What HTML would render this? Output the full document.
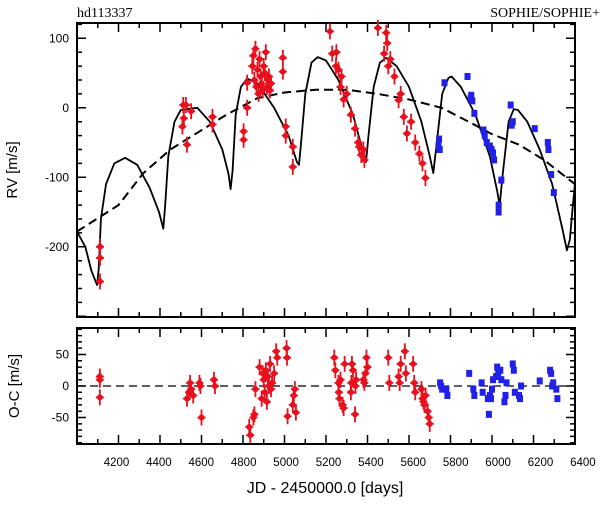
<!DOCTYPE html>
<html><head><meta charset="utf-8"><style>
body{margin:0;background:#fff;width:600px;height:510px;overflow:hidden}
svg{display:block}
text{font-family:"Liberation Sans",sans-serif;fill:#000}
</style></head><body>
<svg id="c" width="600" height="510" xmlns="http://www.w3.org/2000/svg"></svg>
<script>
const xTicks=[4200,4400,4600,4800,5000,5200,5400,5600,5800,6000,6200,6400];
const rvTicks=[100,0,-100,-200];
const ocTicks=[50,0,-50];
const modelJD=[4000,4040,4070,4097,4105,4115,4140,4180,4232,4290,4350,4395,4416,4425,4440,4470,4500,4580,4640,4700,4730,4740,4750,4765,4790,4820,4870,4950,5020,5060,5070,5080,5100,5130,5160,5200,5260,5330,5380,5393,5405,5430,5460,5490,5540,5600,5660,5700,5717,5730,5760,5790,5805,5850,5920,5990,6025,6037,6050,6080,6105,6125,6170,6230,6290,6340,6361,6375,6390,6400];
const modelRV=[-178,-200,-235,-255,-230,-160,-110,-80,-72,-82,-115,-150,-174,-140,-70,-20,-3,0,-20,-60,-95,-117,-90,-10,30,42,35,0,-40,-78,-82,-50,20,65,73,68,40,-10,-65,-78,-40,30,65,72,60,30,-20,-70,-94,-60,20,43,45,30,-10,-70,-120,-140,-100,-20,-2,-3,-20,-60,-110,-175,-205,-190,-140,-108];
const trendJD=[4000,4200,4320,4450,4580,4720,4870,5000,5150,5300,5450,5600,5757,5900,6000,6130,6250,6400];
const trendRV=[-178,-140,-94,-60,-36,-10,14,22,26,26,20,12,0,-22,-38,-53,-75,-110];
const redJD=[4111,4111,4111,4508,4512,4515,4525,4530,4550,4653,4653,4803,4803,4820,4820,4845,4850,4855,4860,4865,4870,4875,4880,4885,4890,4895,4900,4905,4910,4915,4920,4925,4930,4935,4992,4992,5006,5006,5040,5040,5219,5230,5248,5250,5260,5270,5275,5285,5300,5320,5340,5355,5360,5370,5380,5385,5450,5480,5490,5495,5500,5510,5530,5550,5560,5575,5590,5610,5630,5650,5665,5679];
const redRV=[-200,-216,-250,-27,4,-15,4,-53,-5,-13,-24,-34,-46,36,0,60,75,40,85,30,55,20,70,45,35,25,60,50,80,30,40,45,25,35,72,52,-27,-40,-56,-85,110,78,60,80,55,30,45,12,20,-10,-30,-50,-56,-68,-60,-75,115,78,108,93,60,70,45,11,20,-13,-37,-20,-50,-66,-80,-101];
const blueJD=[5742,5745,5748,5771,5882,5897,5900,5905,5915,5959,5965,5975,5990,5998,6005,6010,6032,6032,6045,6090,6095,6100,6206,6269,6272,6285,6298];
const blueRV=[-55,-45,-60,36,45,14,18,10,-8,-32,-40,-50,-55,-60,-65,-75,-140,-150,-104,4,-25,-20,-30,-50,-60,-96,-122];
const redOcJD=[4110,4110,4110,4530,4540,4545,4550,4560,4590,4595,4600,4660,4665,4830,4835,4850,4855,4860,4880,4890,4895,4900,4905,4910,4915,4920,4925,4930,4935,4940,4950,4960,4965,5010,5012,5015,5040,5045,5050,5055,5240,5245,5260,5262,5265,5270,5280,5285,5290,5320,5322,5325,5330,5340,5342,5345,5380,5385,5390,5395,5400,5500,5505,5550,5555,5560,5580,5585,5620,5625,5630,5660,5665,5670,5675,5680,5690,5695,5700];
const redOcRV=[15,10,-18,-20,-10,5,-5,-15,5,0,-50,10,0,-65,-78,-50,-45,-5,30,-20,20,10,-10,25,-25,15,0,35,-5,5,20,55,45,60,45,-48,-30,-15,-5,-42,45,25,5,-10,-20,10,-30,-35,35,-10,5,35,25,-45,0,10,10,5,20,45,30,45,5,15,5,35,55,20,35,5,-10,-5,-20,-25,-30,-15,-40,-50,-60];
const blueOcJD=[5750,5755,5760,5780,5785,5890,5910,5915,5950,5955,5980,5985,5990,5995,6000,6005,6020,6025,6030,6040,6045,6060,6065,6070,6100,6105,6110,6130,6135,6140,6230,6280,6285,6290,6295,6310,6315];
const blueOcRV=[5,0,-5,-5,-15,20,-5,-15,5,-10,-20,-45,-15,-20,-5,10,15,30,20,25,10,-25,-15,5,35,25,-10,-15,-20,0,8,25,20,0,5,-5,-20];

const NS='http://www.w3.org/2000/svg';
const svg=document.getElementById('c');
function mk(t,a,p){const e=document.createElementNS(NS,t);for(const k in a)e.setAttribute(k,a[k]);(p||svg).appendChild(e);return e;}
const X0=77,X1=575,JD0=4000,JD1=6400;
const xs=v=>X0+(v-JD0)/(JD1-JD0)*(X1-X0);
const T0=23,T1=317,RVtop=122,RVbot=-301;
const ys=v=>T0+(RVtop-v)/(RVtop-RVbot)*(T1-T0);
const B0=328,B1=444,OCtop=92,OCbot=-92;
const yo=v=>B0+(OCtop-v)/(OCtop-OCbot)*(B1-B0);

function frame(y0,y1,name,ymin,ymax,minStep,majStep){
  const g=mk('g',{});
  
  
  let d='';
  for(let v=4000;v<=6400;v+=100){const x=xs(v);const L=(v%200===0)?9:5;d+=`M${x},${y1}v${-L}M${x},${y0}v${L}`;}
  const ysc=name==='rv-panel'?ys:yo;
  for(let v=Math.ceil(ymin/minStep)*minStep;v<=ymax;v+=minStep){const y=ysc(v);const L=(v%majStep===0)?9:5;d+=`M${X0},${y}h${L}M${X1},${y}h${-L}`;}
  mk('path',{d:d,stroke:'#000','stroke-width':1.5,fill:'none'},g);
  mk('rect',{x:X0,y:y0,width:X1-X0,height:y1-y0,fill:'none',stroke:'#000','stroke-width':2},g);
  return g;
}
frame(T0,T1,'rv-panel',RVbot,RVtop,20,100);
frame(B0,B1,'oc-panel',OCbot,OCtop,10,50);

function line(jd,rv,dash,name){
  const p=mk('path',{d:jd.map((j,i)=>(i?'L':'M')+xs(j).toFixed(1)+','+ys(rv[i]).toFixed(1)).join(''),fill:'none',stroke:'#000','stroke-width':dash?2:1.8,'stroke-dasharray':dash?'9 5':'none','stroke-linejoin':'round'});
  
  
}
line(trendJD,trendRV,true,'long-period-trend');
line(modelJD,modelRV,false,'keplerian-model');

const zl=mk('path',{d:`M${X0},${yo(0)}H${X1}`,stroke:'#000','stroke-width':1.2,'stroke-dasharray':'8 5'});



function red(jd,v,sc,name){
  const g=mk('g',{fill:'#e8101c',stroke:'#e8101c'});
  
  
  jd.forEach((j,i)=>{const x=xs(j),y=sc(v[i]);
    const d=mk('path',{d:`M${x},${y-8}v16M${x-4},${y}h8`,'stroke-width':1.8},g);
    
    
    const c=mk('circle',{cx:x,cy:y,r:3,stroke:'none'},g);
    
    });
}
function blue(jd,v,sc,name){
  const g=mk('g',{fill:'#2020e8'});
  
  
  jd.forEach((j,i)=>{const x=xs(j),y=sc(v[i]);
    const r=mk('rect',{x:x-3,y:y-3.5,width:6,height:7},g);
    
    });
}
red(redJD,redRV,ys,'sophie-rv-series');
blue(blueJD,blueRV,ys,'sophie-plus-rv-series');
red(redOcJD,redOcRV,yo,'sophie-residual-series');
blue(blueOcJD,blueOcRV,yo,'sophie-plus-residual-series');

function txt(s,a,name){const t=mk('text',a);t.textContent=s;return t;}
rvTicks.forEach(v=>txt(String(v),{x:X0-8,y:ys(v)+4,'text-anchor':'end','font-size':12},'rv-tick-label'));
ocTicks.forEach(v=>txt(String(v),{x:X0-8,y:yo(v)+4,'text-anchor':'end','font-size':12},'oc-tick-label'));
xTicks.forEach((v,i)=>txt(String(v),{x:xs(v)-2+i*0.9,y:466,'text-anchor':'middle','font-size':11.5},'x-tick-label'));
txt('RV [m/s]',{x:0,y:0,transform:'translate(17,170) rotate(-90)','text-anchor':'middle','font-size':15},'rv-axis-title');
txt('O-C [m/s]',{x:0,y:0,transform:'translate(19,386) rotate(-90)','text-anchor':'middle','font-size':15},'oc-axis-title');
txt('JD - 2450000.0 [days]',{x:325,y:493,'text-anchor':'middle','font-size':16},'x-axis-title');
txt('hd113337',{x:77,y:17,'font-size':14,style:'font-family:"Liberation Serif",serif'},'star-name');
txt('SOPHIE/SOPHIE+',{x:600,y:17,'text-anchor':'end','font-size':14,style:'font-family:"Liberation Serif",serif'},'instrument-label');
</script>
</body></html>
